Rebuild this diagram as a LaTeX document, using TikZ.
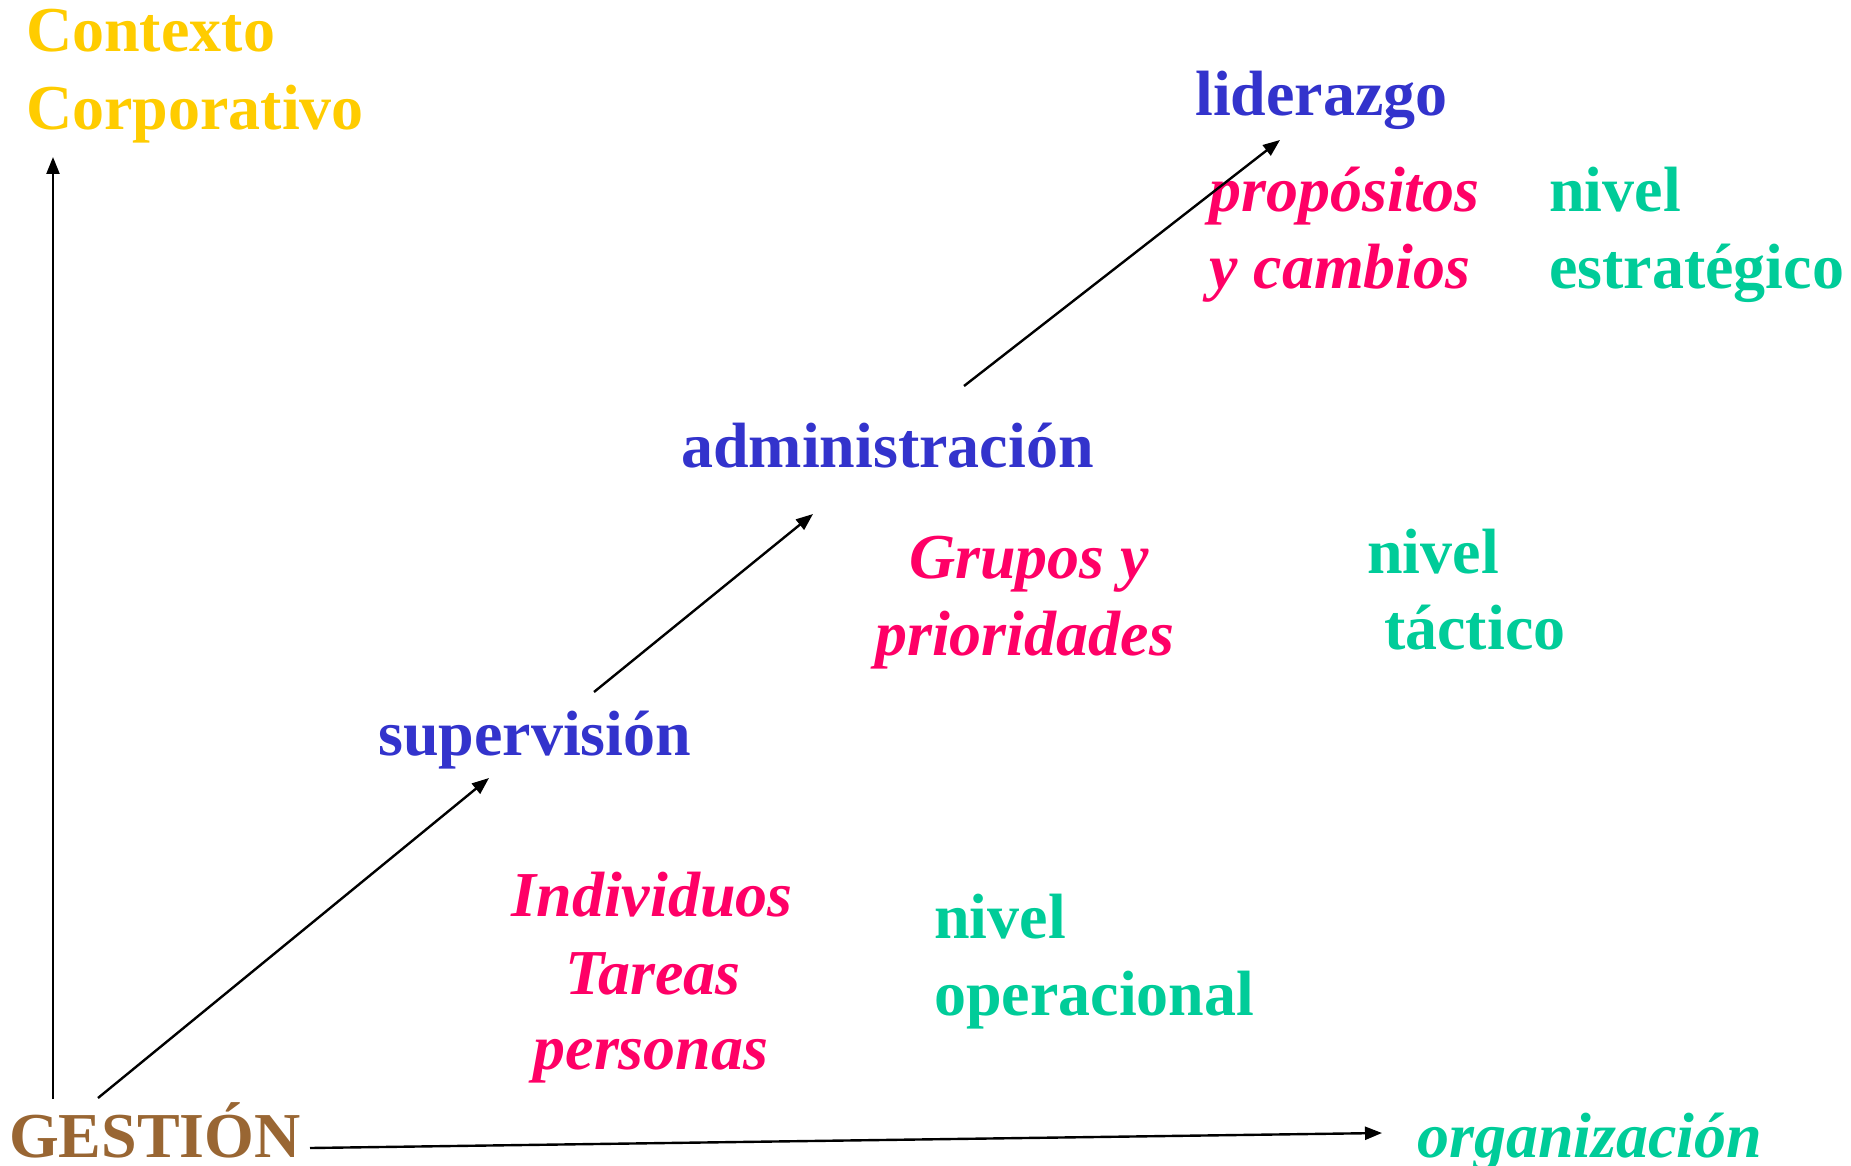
\documentclass[tikz,border=0pt]{standalone}
\usepackage{fontspec}
\setmainfont{Liberation Serif}
\usetikzlibrary{arrows.meta}
\definecolor{cyell}{HTML}{FFCC00}
\definecolor{cblue}{HTML}{3333CC}
\definecolor{cpink}{HTML}{FF0066}
\definecolor{cgreen}{HTML}{00CC99}
\definecolor{cbrown}{HTML}{996633}
\begin{document}
\begin{tikzpicture}[x=1pt,y=-1pt,
  lbl/.style={inner sep=0pt,anchor=base west,font=\fontsize{64}{77}\selectfont\bfseries},
  ital/.style={lbl,font=\fontsize{64}{77}\selectfont\bfseries\itshape},
  arr/.style={line width=2.4pt,-{Triangle[length=17pt,width=13pt]}}]
\useasboundingbox (0,0) rectangle (1851,1166);
% labels
\node[lbl,text=cyell] (ctx1) at (26,52) {Contexto};
\node[lbl,text=cyell] (ctx2) at (26,130) {Corporativo};
\node[lbl,text=cblue] (lid) at (1195,116) {liderazgo};
\node[ital,text=cpink] (prop1) at (1209,212) {propósitos};
\node[ital,text=cpink] (prop2) at (1209,288) {y cambios};
\node[lbl,text=cgreen] (est1) at (1549,212) {nivel};
\node[lbl,text=cgreen] (est2) at (1549,288) {estratégico};
\node[lbl,text=cblue] (adm) at (681,467) {administración};
\node[ital,text=cpink] (gru1) at (909,578) {Grupos y};
\node[ital,text=cpink] (gru2) at (875,655) {prioridades};
\node[lbl,text=cgreen] (tac1) at (1367,573) {nivel};
\node[lbl,text=cgreen] (tac2) at (1384,649) {táctico};
\node[lbl,text=cblue] (sup) at (378,755) {supervisión};
\node[ital,text=cpink,anchor=base] (ind1) at (652,916) {Individuos};
\node[ital,text=cpink,anchor=base] (ind2) at (653,994) {Tareas};
\node[ital,text=cpink,anchor=base] (ind3) at (651,1069) {personas};
\node[lbl,text=cgreen] (ope1) at (934,938) {nivel};
\node[lbl,text=cgreen] (ope2) at (934,1015) {operacional};
\node[lbl,text=cbrown] (ges) at (9,1157) {GESTIÓN};
\node[ital,text=cgreen] (org) at (1417,1157) {organización};
% arrow end points
\coordinate (v0) at (53,1099);
\coordinate (v1) at (53,157);
\coordinate (d0) at (98,1098);
\coordinate (d1) at (489,778);
\coordinate (e0) at (594,692);
\coordinate (e1) at (813,514);
\coordinate (f0) at (964,386);
\coordinate (f1) at (1280,140);
\coordinate (h0) at (310,1148);
\coordinate (h1) at (1382,1133);
\draw[arr] (v0) -- (v1);
\draw[arr] (d0) -- (d1);
\draw[arr] (e0) -- (e1);
\draw[arr] (f0) -- (f1);
\draw[arr] (h0) -- (h1);
\end{tikzpicture}
\end{document}
